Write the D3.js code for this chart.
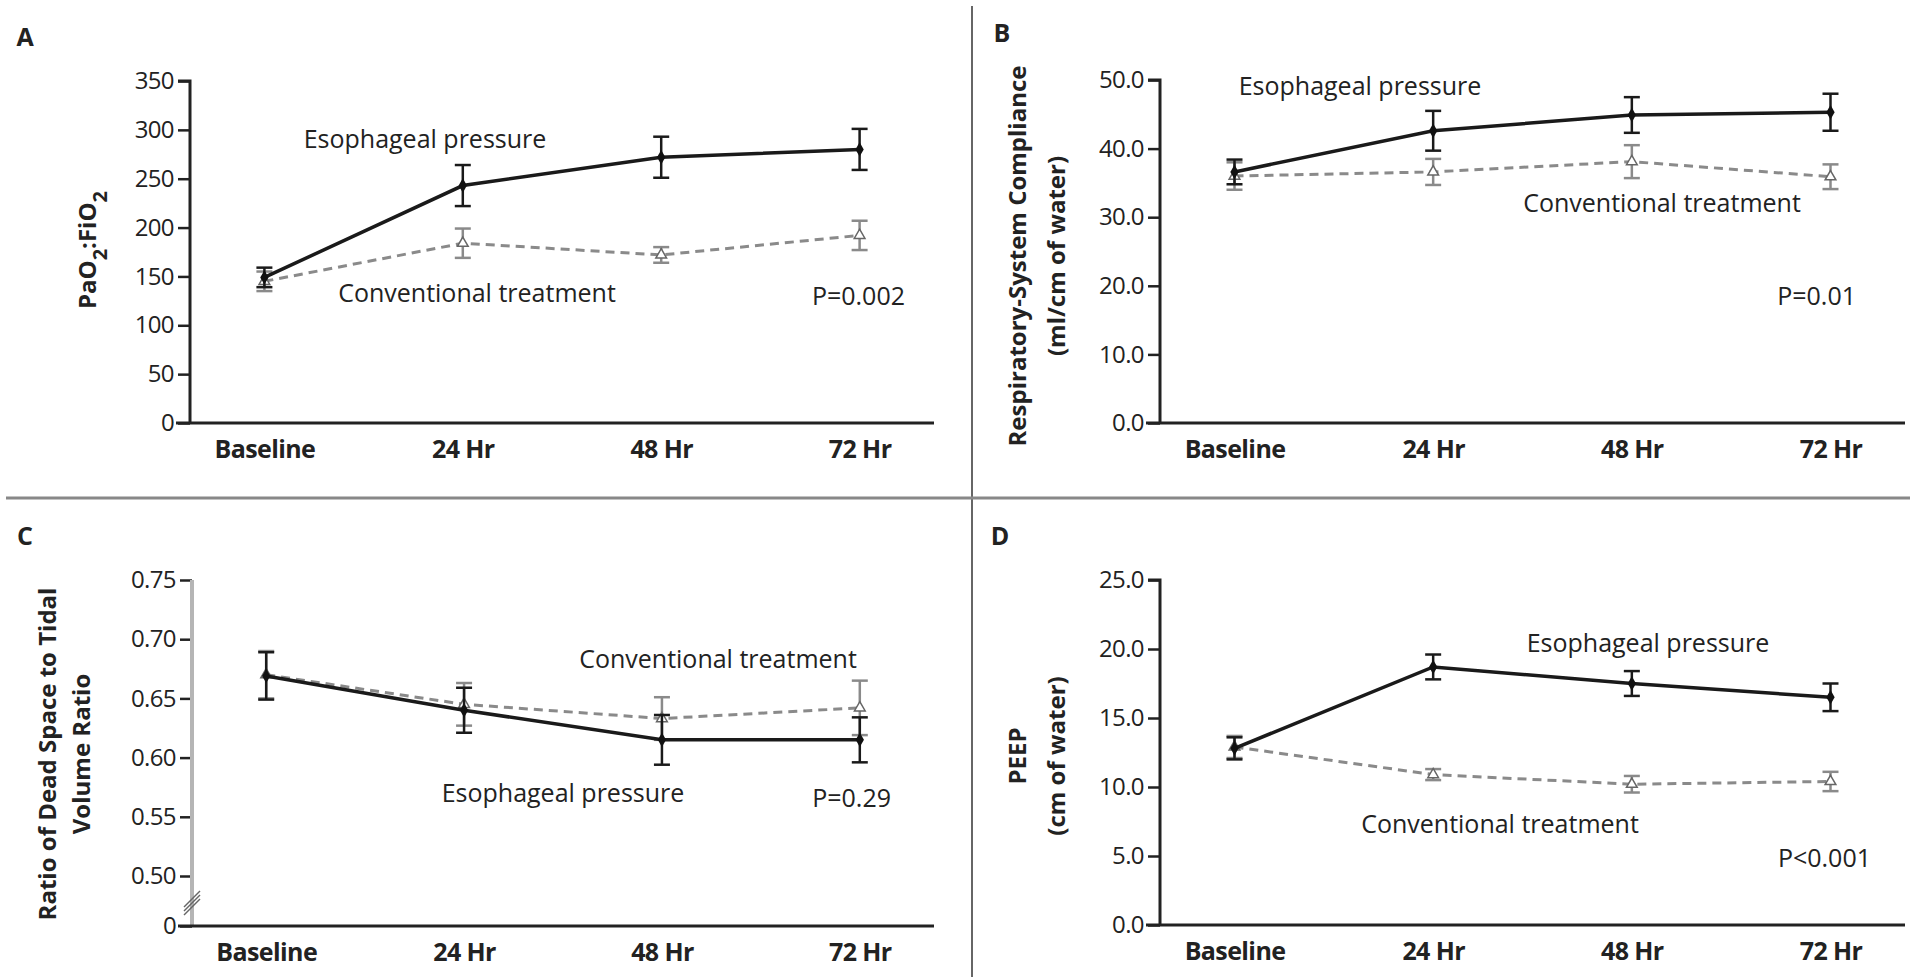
<!DOCTYPE html>
<html>
<head>
<meta charset="utf-8">
<script src="https://cdn.jsdelivr.net/npm/d3@7"></script>
<style>
  html, body { margin: 0; padding: 0; background: #fff; }
  svg { display: block; font-family: "Open Sans", Lato, sans-serif; }
  .tick text { font-family: "Open Sans", Lato, sans-serif; font-size: 24px; fill: #222; }
  .xcat .tick text { font-weight: bold; font-size: 25px; }
</style>
</head>
<body>
<svg id="chart" width="1910" height="977"></svg>
<script>
// Time points shared by all four panels
const timepoints = ["Baseline", "24 Hr", "48 Hr", "72 Hr"];

// A: PaO2:FiO2
const pfEsoph = [149, 243, 272, 280];
const pfEsophErr = [10, 21, 21, 21];
const pfConv = [145, 184, 172, 192];
const pfConvErr = [10, 15, 8, 15];
const pfTicks = [0, 50, 100, 150, 200, 250, 300, 350];

// B: respiratory-system compliance (ml/cm of water)
const complEsoph = [36.6, 42.6, 44.9, 45.3];
const complEsophErr = [1.8, 2.9, 2.6, 2.7];
const complConv = [36.0, 36.6, 38.1, 35.9];
const complConvErr = [2.0, 1.9, 2.4, 1.8];
const complTicks = [0, 10, 20, 30, 40, 50];

// C: dead space to tidal volume ratio
const dsEsoph = [0.669, 0.640, 0.615, 0.615];
const dsEsophErr = [0.020, 0.019, 0.021, 0.019];
const dsConv = [0.670, 0.645, 0.633, 0.642];
const dsConvErr = [0.020, 0.018, 0.018, 0.023];
const dsTicks = [0, 0.50, 0.55, 0.60, 0.65, 0.70, 0.75];

// D: PEEP (cm of water)
const peepEsoph = [12.8, 18.7, 17.5, 16.5];
const peepEsophErr = [0.8, 0.9, 0.9, 1.0];
const peepConv = [12.9, 10.9, 10.2, 10.4];
const peepConvErr = [0.8, 0.4, 0.6, 0.7];
const peepTicks = [0, 5, 10, 15, 20, 25];

const svg = d3.select("#chart");

// Panel dividers
svg.append("line").attr("x1", 972).attr("x2", 972).attr("y1", 6).attr("y2", 977)
  .attr("stroke", "#666").attr("stroke-width", 2);
svg.append("line").attr("x1", 6).attr("x2", 1910).attr("y1", 498).attr("y2", 498)
  .attr("stroke", "#888").attr("stroke-width", 3);

const panels = [
  {
    letter: "A", letterPos: [25, 36],
    left: 190, right: 934, top: 81, bottom: 423,
    y: d3.scaleLinear().domain([0, 350]).range([423, 81]),
    ticks: pfTicks, fmt: d3.format("d"),
    esoph: pfEsoph, esophErr: pfEsophErr, conv: pfConv, convErr: pfConvErr,
    title: [{ x: 86, parts: [["PaO", ""], ["2", "sub"], [":FiO", ""], ["2", "sub"]] }], titleY: 250,
    esophLabel: [425, 138], convLabel: [477, 292],
    p: "P=0.002", pPos: [905, 295]
  },
  {
    letter: "B", letterPos: [1002, 32],
    left: 1160, right: 1905, top: 80, bottom: 423,
    y: d3.scaleLinear().domain([0, 50]).range([423, 80]),
    ticks: complTicks, fmt: d3.format(".1f"),
    esoph: complEsoph, esophErr: complEsophErr, conv: complConv, convErr: complConvErr,
    title: [{ x: 1016, text: "Respiratory-System Compliance" }, { x: 1055, text: "(ml/cm of water)" }], titleY: 256,
    esophLabel: [1360, 85], convLabel: [1662, 202],
    p: "P=0.01", pPos: [1856, 295]
  },
  {
    letter: "C", letterPos: [25, 535],
    left: 192, right: 934, top: 580, bottom: 926,
    y: d3.scaleLinear().domain([0, 0.5, 0.75]).range([926, 876, 580]),
    ticks: dsTicks, fmt: d => d === 0 ? "0" : d3.format(".2f")(d),
    esoph: dsEsoph, esophErr: dsEsophErr, conv: dsConv, convErr: dsConvErr,
    title: [{ x: 46, text: "Ratio of Dead Space to Tidal" }, { x: 80, text: "Volume Ratio" }], titleY: 754,
    esophLabel: [563, 792], convLabel: [718, 658],
    p: "P=0.29", pPos: [891, 797],
    brokenAxis: true
  },
  {
    letter: "D", letterPos: [1000, 535],
    left: 1160, right: 1905, top: 580, bottom: 925,
    y: d3.scaleLinear().domain([0, 25]).range([925, 580]),
    ticks: peepTicks, fmt: d3.format(".1f"),
    esoph: peepEsoph, esophErr: peepEsophErr, conv: peepConv, convErr: peepConvErr,
    title: [{ x: 1016, text: "PEEP" }, { x: 1055, text: "(cm of water)" }], titleY: 756,
    esophLabel: [1648, 642], convLabel: [1500, 823],
    p: "P<0.001", pPos: [1871, 857]
  }
];

panels.forEach(pn => {
  const g = svg.append("g");
  const x = d3.scalePoint().domain(timepoints).range([pn.left, pn.right]).padding(0.375);
  const y = pn.y;

  // Panel letter
  g.append("text").attr("x", pn.letterPos[0]).attr("y", pn.letterPos[1])
    .attr("text-anchor", "middle").attr("dominant-baseline", "central")
    .attr("font-size", 25).attr("font-weight", "bold").attr("fill", "#222")
    .text(pn.letter);

  // Y axis
  const yAxis = g.append("g").attr("transform", `translate(${pn.left},0)`)
    .call(d3.axisLeft(y).tickValues(pn.ticks).tickFormat(pn.fmt).tickSize(12).tickPadding(4));
  yAxis.selectAll(".tick line").attr("stroke", "#222").attr("stroke-width", 2.5);
  yAxis.selectAll(".tick text").attr("letter-spacing", -0.6);
  if (pn.brokenAxis) {
    yAxis.select(".domain").remove();
    // gray vertical axis with a break between 0 and 0.50
    g.append("line").attr("x1", pn.left).attr("x2", pn.left)
      .attr("y1", y(0.75)).attr("y2", y(0))
      .attr("stroke", "#b5b5b5").attr("stroke-width", 4);
    const by = (y(0.5) + y(0)) / 2;
    [-4, 0, 4].forEach(o => {
      g.append("line")
        .attr("x1", pn.left - 8).attr("y1", by + 10 + o)
        .attr("x2", pn.left + 8).attr("y2", by - 6 + o)
        .attr("stroke", "#666").attr("stroke-width", 1.5);
    });
  } else {
    yAxis.select(".domain").attr("d", `M-12,${y.range()[1]}H0V${y.range()[0]}`)
      .attr("stroke", "#222").attr("stroke-width", 3);
  }

  // X axis
  const xAxis = g.append("g").attr("class", "xcat")
    .attr("transform", `translate(0,${pn.bottom})`)
    .call(d3.axisBottom(x).tickSize(0).tickPadding(17));
  xAxis.select(".domain").attr("d", `M${pn.left - 14},0H${pn.right}`)
    .attr("stroke", "#222").attr("stroke-width", 3);
  xAxis.selectAll(".tick text").attr("letter-spacing", -0.6);

  // Y axis title (rotated)
  pn.title.forEach(t => {
    const tx = g.append("text")
      .attr("transform", `translate(${t.x},${pn.titleY}) rotate(-90)`)
      .attr("text-anchor", "middle").attr("dominant-baseline", "central")
      .attr("font-size", 24).attr("font-weight", "bold").attr("fill", "#222");
    if (t.parts) {
      t.parts.forEach(([s, kind]) => {
        const ts = tx.append("tspan").text(s);
        if (kind === "sub") ts.attr("baseline-shift", "sub").attr("font-size", 20);
      });
    } else {
      tx.text(t.text);
    }
  });

  const series = [
    { vals: pn.conv, err: pn.convErr, color: "#8a8a8a", dash: "9,6", marker: "tri", w: 3 },
    { vals: pn.esoph, err: pn.esophErr, color: "#1a1a1a", dash: null, marker: "dia", w: 3.5 }
  ];

  series.forEach(s => {
    const pts = timepoints.map((t, i) => ({ t, v: s.vals[i], e: s.err[i] }));
    const line = d3.line().x(d => x(d.t)).y(d => y(d.v));
    g.append("path").datum(pts).attr("d", line)
      .attr("fill", "none").attr("stroke", s.color).attr("stroke-width", s.w)
      .attr("stroke-dasharray", s.dash);

    // error bars
    const eb = g.append("g").selectAll("g").data(pts).join("g");
    eb.append("line")
      .attr("x1", d => x(d.t)).attr("x2", d => x(d.t))
      .attr("y1", d => y(d.v - d.e)).attr("y2", d => y(d.v + d.e))
      .attr("stroke", s.color).attr("stroke-width", 2.5);
    [-1, 1].forEach(sign => {
      eb.append("line")
        .attr("x1", d => x(d.t) - 8).attr("x2", d => x(d.t) + 8)
        .attr("y1", d => y(d.v + sign * d.e)).attr("y2", d => y(d.v + sign * d.e))
        .attr("stroke", s.color).attr("stroke-width", 2.5);
    });

    // markers
    if (s.marker === "dia") {
      g.append("g").selectAll("path").data(pts).join("path")
        .attr("transform", d => `translate(${x(d.t)},${y(d.v)})`)
        .attr("d", d3.symbol(d3.symbolDiamond, 60)())
        .attr("fill", "#111");
    } else {
      g.append("g").selectAll("path").data(pts).join("path")
        .attr("transform", d => `translate(${x(d.t)},${y(d.v)})`)
        .attr("d", d3.symbol(d3.symbolTriangle, 50)())
        .attr("fill", "#fff").attr("stroke", "#666").attr("stroke-width", 1.5);
    }
  });

  // Series labels
  g.append("text").attr("x", pn.esophLabel[0]).attr("y", pn.esophLabel[1])
    .attr("text-anchor", "middle").attr("dominant-baseline", "central")
    .attr("font-size", 25).attr("fill", "#222").text("Esophageal pressure");
  g.append("text").attr("x", pn.convLabel[0]).attr("y", pn.convLabel[1])
    .attr("text-anchor", "middle").attr("dominant-baseline", "central")
    .attr("font-size", 25).attr("fill", "#222").text("Conventional treatment");

  // P value
  g.append("text").attr("x", pn.pPos[0]).attr("y", pn.pPos[1])
    .attr("text-anchor", "end").attr("dominant-baseline", "central")
    .attr("font-size", 25).attr("fill", "#222").text(pn.p);
});
</script>
</body>
</html>
